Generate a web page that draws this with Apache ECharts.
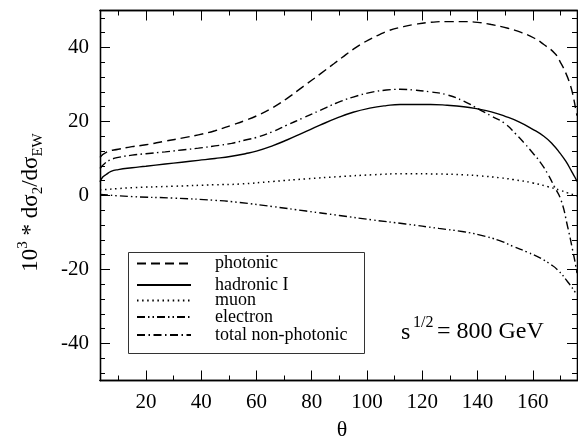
<!DOCTYPE html>
<html><head><meta charset="utf-8">
<script src="https://cdn.jsdelivr.net/npm/echarts@6/dist/echarts.min.js"></script>
<style>html,body{margin:0;padding:0;background:#fff}#c{width:578px;height:436px}</style>
</head><body><div id="c"></div>
<script>
// ---- data ----
const photonicTheta = [3.4,6,10,15,20,27,33,39,45,51,56,60,66,71,77,83,88,91,95,99,104,108,113,117,123,129,135,140,145,151,156,160.6,164,168,170,172,173.5,174.4,175.6,176];
const photonicVals  = [10.3,11.8,12.5,13.2,13.7,14.7,15.5,16.4,17.5,19.0,20.3,21.5,23.8,26.2,29.5,32.8,35.6,37.3,39.5,41.4,43.3,44.6,45.6,46.2,46.8,47.0,47.0,46.8,46.2,45.2,44.0,42.5,40.8,38.4,36.0,33.0,30.0,27.6,23.1,21.6];

const hadronicTheta = [3.4,4.4,5.5,7.4,10,15,20,27,33,39,45,51,56,60,66,71,77,83,89,95,101,107,112,117,123,129,135,140,145,150,155,160,164,167,170,172,174,175.2,176];
const hadronicVals  = [3.7,5.0,5.6,6.5,7.0,7.5,7.9,8.5,9.0,9.5,10.0,10.6,11.3,12.0,13.5,15.0,17.0,19.0,20.9,22.5,23.6,24.3,24.6,24.6,24.6,24.4,24.0,23.4,22.6,21.4,19.9,17.9,16.0,14.0,11.3,9.2,6.6,5.0,3.8];

const muonTheta = [3.4,15,30,45,54,66,78,90,102,114,126,135,141,148,153,160,165.4,170,172.6,175.6,176];
const muonVals  = [1.5,2.1,2.5,2.9,3.1,3.8,4.5,5.1,5.6,5.9,5.8,5.6,5.3,4.8,4.3,3.4,2.4,1.4,0.7,0.0,-0.2];

const electronTheta = [3.4,15,30,45,54,66,78,90,102,114,126,135,141,148,153,158,163,166,169,172.6,175.6,176];
const electronVals  = [0.3,-0.3,-0.7,-1.3,-1.9,-3.0,-4.2,-5.4,-6.6,-7.7,-8.9,-9.8,-10.7,-12.2,-13.8,-15.3,-17.0,-18.4,-20.1,-23.3,-26.4,-26.9];

const totalTheta = [3.4,5,7.4,10,15,20,27,33,39,45,51,56,60,66,71,77,83,89,95,101,107,112,117,123,129,135,141,145,150,154,157,160,163,165.5,167.8,170.2,172.6,174.4,175.6,176];
const totalVals  = [7.3,8.6,9.7,10.3,10.9,11.3,11.8,12.3,12.8,13.4,14.1,15.0,15.7,17.3,19.0,21.0,23.0,25.0,26.6,27.8,28.5,28.7,28.5,28.0,27.2,25.5,23.1,21.5,19.4,16.5,14.1,11.5,8.7,5.7,2.4,-1.2,-8.4,-14.7,-19.2,-21.0];

const seriesNames = ['photonic','hadronic I','muon','electron','total non-photonic'];

const xMajorTicks = [20,40,60,80,100,120,140,160];
const xMinorTicks = [10,30,50,70,90,110,130,150,170];
const yMajorTicks = [-40,-20,0,20,40];
const yMinorTicks = [-48,-44,-36,-32,-28,-24,-16,-12,-8,-4,4,8,12,16,24,28,32,36,44,48];

const xMin = 3.4, xMax = 176, yMin = -50, yMax = 50;

// ---- chart ----
const FONT = "'Liberation Serif','Times New Roman',serif";
const pairs = (t, v) => t.map((x, i) => [x, v[i]]);

function xAx(pos, ticks, len, withLabels) {
  const a = {
    type: 'value', position: pos, min: xMin, max: xMax,
    axisLine: { show: true, onZero: false, lineStyle: { color: '#000', width: 1.3 } },
    axisTick: { show: true, inside: true, length: len, customValues: ticks, lineStyle: { color: '#000', width: 1 } },
    axisLabel: withLabels ? { show: true, customValues: ticks, margin: 11, color: '#000', fontFamily: FONT, fontSize: 21 } : { show: false },
    splitLine: { show: false }
  };
  if (withLabels) {
    a.name = 'θ'; a.nameLocation = 'middle'; a.nameGap = 39;
    a.nameTextStyle = { color: '#000', fontFamily: FONT, fontSize: 22, padding: [0, 0, 0, 7] };
  }
  return a;
}
function yAx(pos, ticks, len, withLabels) {
  const a = {
    type: 'value', position: pos, min: yMin, max: yMax,
    axisLine: { show: true, onZero: false, lineStyle: { color: '#000', width: 1.3 } },
    axisTick: { show: true, inside: true, length: len, customValues: ticks, lineStyle: { color: '#000', width: 1 } },
    axisLabel: withLabels ? { show: true, customValues: ticks, margin: 11, color: '#000', fontFamily: FONT, fontSize: 21 } : { show: false },
    splitLine: { show: false }
  };
  if (withLabels) {
    a.name = '10{sup|3} * dσ{sub|2}/dσ{sub|EW}';
    a.nameLocation = 'middle'; a.nameGap = 54; a.nameRotate = 90;
    a.nameTextStyle = {
      color: '#000', fontFamily: FONT, fontSize: 23, lineHeight: 30, padding: [0, 14, 0, 0],
      rich: {
        sup: { fontFamily: FONT, fontSize: 15, lineHeight: 12, verticalAlign: 'top', color: '#000' },
        sub: { fontFamily: FONT, fontSize: 15, lineHeight: 14, verticalAlign: 'bottom', color: '#000' }
      }
    };
  }
  return a;
}

const styles = [
  { type: [9, 5], width: 1.4 },
  { type: 'solid', width: 1.4 },
  { type: [1.5, 3.6], width: 1.5 },
  { type: [8, 3, 1.5, 3, 1.5, 3], width: 1.4 },
  { type: [8, 3.5, 1.5, 3.5], width: 1.4 }
];
const datasets = [
  pairs(photonicTheta, photonicVals),
  pairs(hadronicTheta, hadronicVals),
  pairs(muonTheta, muonVals),
  pairs(electronTheta, electronVals),
  pairs(totalTheta, totalVals)
];

const legendCenters = [263.5, 285, 300.5, 317, 335];
const legends = seriesNames.map((n, i) => ({
  data: [n], left: 136, top: legendCenters[i] - 9, orient: 'horizontal',
  itemWidth: 54, itemHeight: 18, padding: 0, selectedMode: false,
  itemStyle: { opacity: 0, color: 'rgba(0,0,0,0)', borderWidth: 0 },
  textStyle: { color: '#000', fontFamily: FONT, fontSize: 18, lineHeight: 18, padding: [0, 0, 0, 19] }
}));

const chart = echarts.init(document.getElementById('c'), null, { renderer: 'canvas' });
chart.setOption({
  animation: false,
  backgroundColor: '#fff',
  grid: { left: 100, right: 1, top: 10.5, bottom: 55.5, containLabel: false, outerBoundsMode: 'none' },
  xAxis: [xAx('bottom', xMajorTicks, 10, true), xAx('bottom', xMinorTicks, 5, false), xAx('top', xMajorTicks, 10, false), xAx('top', xMinorTicks, 5, false)],
  yAxis: [yAx('left', yMajorTicks, 10, true), yAx('left', yMinorTicks, 5, false), yAx('right', yMajorTicks, 10, false), yAx('right', yMinorTicks, 5, false)],
  legend: legends,
  series: seriesNames.map((n, i) => ({
    name: n, type: 'line', xAxisIndex: 0, yAxisIndex: 0,
    data: datasets[i], symbol: 'none', smooth: 0.5, clip: true,
    lineStyle: { color: '#000', type: styles[i].type, width: styles[i].width },
    itemStyle: { color: '#000' }
  })),
  graphic: [
    { type: 'rect', left: 126, top: 250, shape: { width: 236, height: 101 }, style: { fill: 'none', stroke: '#333', lineWidth: 1 }, z: 10 },
    { type: 'text', x: 401, y: 333, style: { text: 's', font: '24px ' + FONT, fill: '#000', verticalAlign: 'middle' }, z: 10 },
    { type: 'text', x: 413, y: 323, style: { text: '1/2', font: '16px ' + FONT, fill: '#000', verticalAlign: 'middle' }, z: 10 },
    { type: 'text', x: 437, y: 332, style: { text: '= 800 GeV', font: '24px ' + FONT, fill: '#000', verticalAlign: 'middle' }, z: 10 }
  ]
});
</script>
</body></html>
